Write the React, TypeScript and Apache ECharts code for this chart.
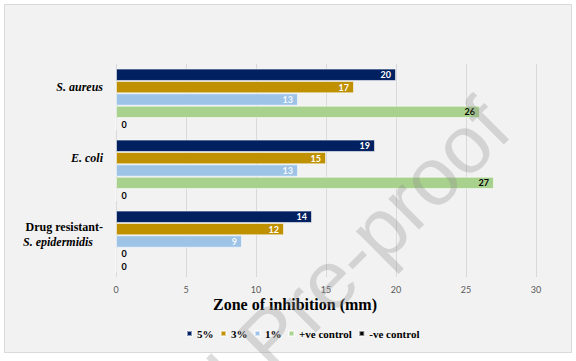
import React, { useEffect, useRef } from 'react';
import * as echarts from 'echarts';

const categories = ['S. aureus', 'E. coli', 'Drug resistant-S. epidermidis'];
const seriesNames = ['5%', '3%', '1%', '+ve control', '-ve control'];
const values5 = [20, 18.5, 14];
const values3 = [17, 15, 12];
const values1 = [13, 13, 9];
const valuesPos = [26, 27, 0];
const valuesNeg = [0, 0, 0];
const seriesValues = [values5, values3, values1, valuesPos, valuesNeg];
const seriesColors = ['#002060', '#bf9000', '#9dc3e6', '#a9d18e', '#000000'];
const labelColors = ['#ffffff', '#ffffff', '#f4f8fc', '#000000', '#000000'];
const xMin = 0;
const xMax = 30;
const xStep = 5;
const xTitle = 'Zone of inhibition (mm)';
const watermarkA = 'Journal ';
const watermarkB = 'Pre-proof';

const SERIF = 'Liberation Serif';
const SANS = 'Lato';

export default function App() {
  const ref = useRef<HTMLDivElement>(null);
  useEffect(() => {
    if (!ref.current) return;
    const chart = echarts.init(ref.current, undefined, { renderer: 'svg' });
    const series = seriesNames.map((name, i) => ({
      name,
      type: 'bar',
      barGap: '0%',
      barCategoryGap: '13%',
      itemStyle: { color: seriesColors[i], borderColor: 'rgba(255,255,255,0.55)', borderWidth: 1 },
      label: {
        show: true,
        position: 'insideRight',
        distance: 5,
        color: labelColors[i],
        fontFamily: SANS,
        fontWeight: 'bold',
        fontSize: 9,
        formatter: (p: any) => String(Math.round(p.value)),
      },
      data: seriesValues[i].map((v) =>
        v === 0
          ? { value: v, label: { position: 'right', distance: 5, color: '#000000' } }
          : { value: v }
      ),
    }));
    const wmStyle = { fontFamily: 'Liberation Sans', fontSize: 82, fill: 'rgba(140,140,140,0.3)', verticalAlign: 'alphabetic' };
    const option: any = {
      animation: false,
      backgroundColor: '#ffffff',
      grid: { left: 116, right: 40, top: 64, bottom: 84 },
      title: {
        text: xTitle,
        left: 213,
        top: 296,
        padding: 0,
        textStyle: { fontFamily: SERIF, fontWeight: 'bold', fontSize: 16, color: '#000' },
      },
      legend: {
        data: seriesNames,
        left: 186,
        top: 328,
        padding: 0,
        itemWidth: 5,
        itemHeight: 5,
        itemGap: 6.5,
        icon: 'rect',
        textStyle: { fontFamily: SERIF, fontWeight: 'bold', fontSize: 11, color: '#000' },
      },
      xAxis: {
        type: 'value',
        min: xMin,
        max: xMax,
        interval: xStep,
        axisLine: { show: false },
        axisTick: { show: false },
        splitLine: { show: true, lineStyle: { color: '#d9d9d9', width: 1 } },
        axisLabel: { color: '#595959', fontFamily: SANS, fontSize: 9, margin: 8 },
      },
      yAxis: {
        type: 'category',
        data: categories,
        inverse: true,
        axisLine: { show: false },
        axisTick: { show: false },
        axisLabel: {
          margin: 13,
          formatter: (v: string) => {
            if (v.startsWith('Drug resistant-')) {
              return '{b|Drug resistant-}\n{i2|' + v.slice('Drug resistant-'.length) + '}\n{s2| }';
            }
            return '{i|' + v + '}\n{s| }';
          },
          rich: {
            i: { fontFamily: SERIF, fontStyle: 'italic', fontWeight: 'bold', fontSize: 12, color: '#000', lineHeight: 26 },
            s: { fontSize: 12, lineHeight: 26 },
            b: { fontFamily: SERIF, fontWeight: 'bold', fontSize: 12, color: '#000', lineHeight: 15 },
            i2: { fontFamily: SERIF, fontStyle: 'italic', fontWeight: 'bold', fontSize: 12, color: '#000', lineHeight: 15, padding: [0, 10, 0, 0] },
            s2: { fontSize: 12, lineHeight: 15 },
          },
        },
      },
      graphic: [
        {
          type: 'rect',
          z: -10,
          silent: true,
          shape: { x: 4.5, y: 4.5, width: 567, height: 348 },
          style: { fill: '#f2f2f2', stroke: '#d9d9d9', lineWidth: 1 },
        },
        {
          type: 'text',
          z: 100,
          silent: true,
          x: 224,
          y: 326,
          rotation: Math.PI / 4,
          style: { ...wmStyle, text: watermarkB, align: 'left' },
        },
        {
          type: 'text',
          z: 100,
          silent: true,
          x: 224,
          y: 326,
          rotation: Math.PI / 4,
          style: { ...wmStyle, text: watermarkA, align: 'right' },
        },
      ],
      series,
    };
    chart.setOption(option);
    return () => chart.dispose();
  }, []);
  return (
    <div style={{ position: 'fixed', left: 0, top: 0, width: 576, height: 361 }}>
      <div ref={ref} style={{ width: 576, height: 361 }} />
    </div>
  );
}
